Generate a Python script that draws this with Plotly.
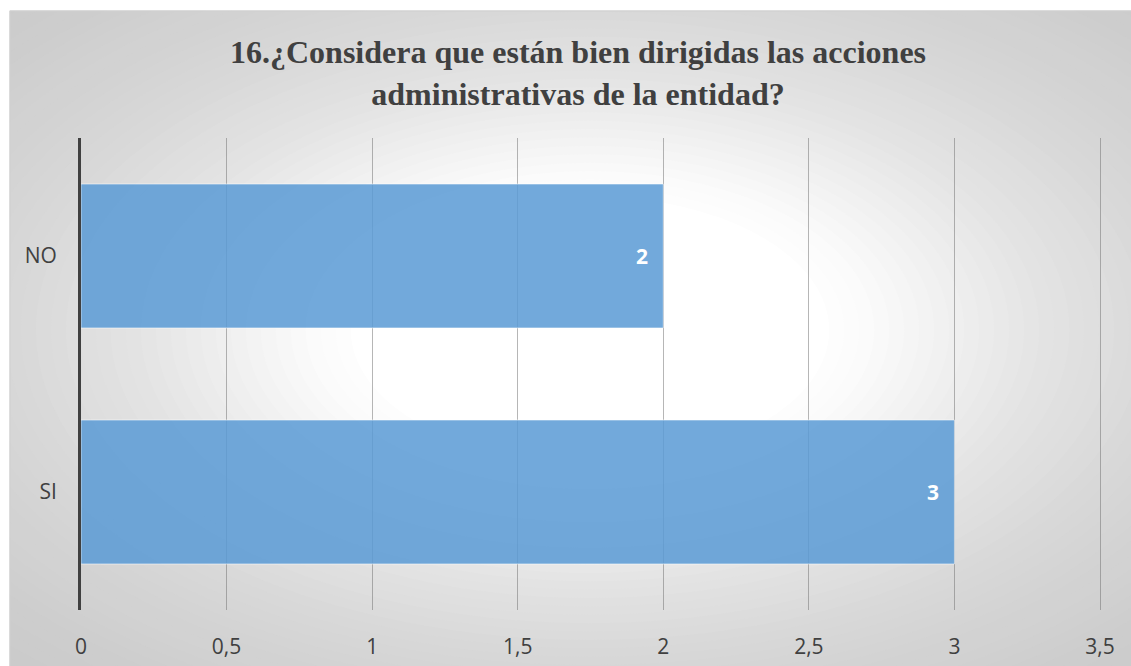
import plotly.graph_objects as go

# Survey answers and counts
categories = ["SI", "NO"]
counts = [3, 2]
x_ticks = [0, 0.5, 1, 1.5, 2, 2.5, 3, 3.5]
x_max = 3.5

title_lines = [
    "16.¿Considera que están bien dirigidas las acciones",
    "administrativas de la entidad?",
]

W, H = 1131, 666
# plot area in pixels (a few spare pixels on the right keep the last gridline)
L, R_TICK, T, B = 81, 1100, 138, 610
EXTRA = 4
R = R_TICK + EXTRA
PW, PH = R - L, B - T
x_range_max = x_max * PW / (R_TICK - L)


def px_to_paper_x(px):
    return (px - L) / PW


def px_to_paper_y(py):
    return (B - py) / PH


def gray_at(r):
    stops = [(0.0, 255), (0.4, 255), (0.5, 250), (0.76, 229), (1.0, 215), (1.31, 205), (1.6, 199)]
    for (r0, g0), (r1, g1) in zip(stops, stops[1:]):
        if r <= r1:
            t = (r - r0) / (r1 - r0)
            return g0 + t * (g1 - g0)
    return stops[-1][1]


shapes = []
# radial background gradient of the chart area, drawn as nested ellipses
cx, cy, rx, ry = 590, 330, 590, 330
n = 48
for i in range(n + 1):
    r = 1.6 - i * (1.6 - 0.38) / n
    g = int(round(gray_at(r)))
    shapes.append(dict(
        type="circle", xref="paper", yref="paper", layer="below",
        x0=px_to_paper_x(cx - r * rx), x1=px_to_paper_x(cx + r * rx),
        y0=px_to_paper_y(cy + r * ry), y1=px_to_paper_y(cy - r * ry),
        fillcolor=f"rgb({g},{g},{g})", line=dict(width=0),
    ))
# white page outside the chart area
shapes.append(dict(type="rect", xref="paper", yref="paper", layer="below",
                   x0=px_to_paper_x(-5), x1=px_to_paper_x(W + 5),
                   y0=px_to_paper_y(10.5), y1=px_to_paper_y(-5),
                   fillcolor="white", line=dict(width=0)))
shapes.append(dict(type="rect", xref="paper", yref="paper", layer="below",
                   x0=px_to_paper_x(-5), x1=px_to_paper_x(9.5),
                   y0=px_to_paper_y(H + 5), y1=px_to_paper_y(-5),
                   fillcolor="white", line=dict(width=0)))
# chart area border
shapes.append(dict(type="rect", xref="paper", yref="paper", layer="below",
                   x0=px_to_paper_x(10), x1=px_to_paper_x(W + 5),
                   y0=px_to_paper_y(H + 5), y1=px_to_paper_y(11),
                   fillcolor="rgba(0,0,0,0)", line=dict(color="#cfcfcf", width=1)))

fig = go.Figure()
fig.add_trace(go.Bar(
    y=categories, x=counts, orientation="h",
    marker=dict(color="rgba(91,155,213,0.86)",
                line=dict(color="rgba(255,255,255,0.55)", width=1)),
    hoverinfo="skip",
))

annotations = []
for cat, val in zip(categories, counts):
    annotations.append(dict(
        x=val, y=cat, xref="x", yref="y", text=f"<b>{val}</b>",
        showarrow=False, xanchor="right", xshift=-13,
        font=dict(family="Open Sans", size=21, color="white"),
    ))

fig.update_layout(
    width=W, height=H,
    margin=dict(l=L, r=W - R, t=T, b=H - B, pad=0),
    paper_bgcolor="white", plot_bgcolor="rgba(0,0,0,0)",
    separators=",.",
    bargap=0.39,
    showlegend=False,
    shapes=shapes,
    annotations=annotations,
    title=dict(
        text="<br>".join(f"<b>{t}</b>" for t in title_lines),
        x=578 / W, xref="container", xanchor="center",
        y=1 - 63 / H, yref="container", yanchor="middle",
        font=dict(family="Liberation Serif", size=32, color="#404040"),
    ),
    xaxis=dict(
        range=[0, x_range_max], tickvals=x_ticks, showgrid=True,
        gridcolor="rgba(110,110,110,0.5)", gridwidth=1,
        zeroline=False, showline=False, ticks="", automargin=False,
        tickfont=dict(family="Open Sans", size=21, color="#404040"),
        ticklabelstandoff=22,
    ),
    yaxis=dict(
        showgrid=False, zeroline=False, showline=True, automargin=False,
        linecolor="#404040", linewidth=3, ticks="",
        tickfont=dict(family="Open Sans", size=21, color="#404040"),
        ticklabelstandoff=17,
    ),
)

fig.write_html("out.html")
